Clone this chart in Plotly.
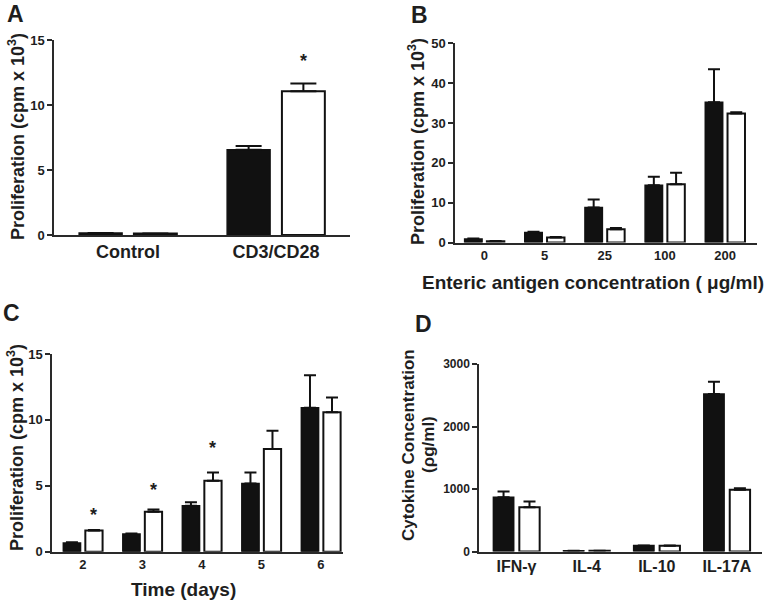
import plotly.graph_objects as go

# ---------- data ----------
a_cats = ["Control", "CD3/CD28"]
a_black = [0.15, 6.55]
a_black_err = [0.0, 0.3]
a_white = [0.12, 11.06]
a_white_err = [0.0, 0.6]
a_ticks = [0, 5, 10, 15]
a_stars = [("CD3/CD28", 13.4)]

b_cats = ["0", "5", "25", "100", "200"]
b_black = [0.9, 2.5, 8.8, 14.4, 35.2]
b_black_err = [0.1, 0.2, 2.0, 2.1, 8.3]
b_white = [0.3, 1.25, 3.35, 14.6, 32.4]
b_white_err = [0.05, 0.1, 0.3, 2.9, 0.3]
b_ticks = [0, 10, 20, 30, 40, 50]

c_cats = ["2", "3", "4", "5", "6"]
c_black = [0.66, 1.34, 3.48, 5.18, 10.93]
c_black_err = [0.05, 0.05, 0.28, 0.82, 2.45]
c_white = [1.6, 3.03, 5.38, 7.8, 10.58]
c_white_err = [0.05, 0.17, 0.62, 1.37, 1.12]
c_ticks = [0, 5, 10, 15]
c_stars = [("2", 2.8), ("3", 4.7), ("4", 7.85)]

d_cats = ["IFN-γ", "IL-4", "IL-10", "IL-17A"]
d_black = [868, 10, 96, 2520]
d_black_err = [91, 0, 0, 198]
d_white = [709, 10, 90, 986]
d_white_err = [90, 0, 5, 26]
d_ticks = [0, 1000, 2000, 3000]

W, H = 765, 601
FONT = "Liberation Sans"
TXT = "#1e1e1e"
LINE = "#2a2a2a"

def px(x):
    return x / W

def py(y):
    return 1 - y / H

fig = go.Figure()

BW = 0.29
OFF_B = -0.33
OFF_W = 0.04

panels = [
    ("1", a_cats, a_black, a_black_err, a_white, a_white_err, a_ticks, [0, 15], (54, 350), (40, 235), [-0.5, 1.5], 13, 18, 13),
    ("2", b_cats, b_black, b_black_err, b_white, b_white_err, b_ticks, [0, 50], (455, 757), (43.3, 242.5), [-0.49, 4.53], 6, 13, 13),
    ("3", c_cats, c_black, c_black_err, c_white, c_white_err, c_ticks, [0, 15], (52, 343), (354, 551.7), [-0.52, 4.37], 6, 13, 13),
    ("4", d_cats, d_black, d_black_err, d_white, d_white_err, d_ticks, [0, 3000], (479, 762), (364, 551.5), [-0.535, 3.5], 6, 16, 12),
]

layout_axes = {}
for name, cats, blk, berr, wht, werr, ticks, yr, xd, yd, xr, capw, xfs, yfs in panels:
    xa = "x" + ("" if name == "1" else name)
    ya = "y" + ("" if name == "1" else name)
    fig.add_trace(go.Bar(
        x=cats, y=blk, xaxis=xa, yaxis=ya, width=BW, offset=OFF_B,
        marker=dict(color="#111111", line=dict(color="#111111", width=1.5)),
        error_y=dict(type="data", array=berr, arrayminus=[0] * len(berr), symmetric=False,
                     color="#111111", thickness=2, width=capw),
        showlegend=False,
    ))
    fig.add_trace(go.Bar(
        x=cats, y=wht, xaxis=xa, yaxis=ya, width=BW, offset=OFF_W,
        marker=dict(color="#ffffff", line=dict(color="#111111", width=2)),
        error_y=dict(type="data", array=werr, arrayminus=[0] * len(werr), symmetric=False,
                     color="#111111", thickness=2, width=capw),
        showlegend=False,
    ))
    xkey = "xaxis" + ("" if name == "1" else name)
    ykey = "yaxis" + ("" if name == "1" else name)
    layout_axes[xkey] = dict(
        domain=[px(xd[0]), px(xd[1])], anchor=ya, type="category",
        categoryorder="array", categoryarray=cats, range=xr, automargin=False,
        showline=True, linecolor=LINE, linewidth=1.5, ticks="",
        showgrid=False, zeroline=False, fixedrange=True,
        tickfont=dict(family=FONT, size=xfs, color=TXT, weight="bold"),
    )
    layout_axes[ykey] = dict(
        domain=[py(yd[1]), py(yd[0])], anchor=xa, range=yr, automargin=False,
        tickvals=ticks, showline=True, linecolor=LINE, linewidth=1.5,
        ticks="outside", ticklen=5, tickwidth=1.5, tickcolor=LINE,
        showgrid=False, zeroline=False, fixedrange=True,
        tickfont=dict(family=FONT, size=yfs, color=TXT, weight="bold"),
    )

fig.update_layout(
    width=W, height=H, barmode="overlay",
    margin=dict(l=0, r=0, t=0, b=0, autoexpand=False),
    paper_bgcolor="white", plot_bgcolor="white",
    **layout_axes,
)

anns = []
def txt(x, y, s, size, angle=0, xanchor="center", yanchor="middle"):
    anns.append(dict(xref="paper", yref="paper", x=px(x), y=py(y), text=s,
                     showarrow=False, textangle=angle, xanchor=xanchor, yanchor=yanchor,
                     font=dict(family=FONT, size=size, color=TXT, weight="bold")))

# panel letters
txt(16, 14, "A", 23)
txt(419, 15, "B", 23)
txt(11, 313, "C", 23)
txt(423, 324, "D", 23)

# axis titles
ytitle = "Proliferation (cpm x 10<sup>3</sup>)"
txt(16, 137, ytitle, 18, angle=-90)
txt(416, 141, ytitle, 18, angle=-90)
txt(15, 448, ytitle, 18, angle=-90)
txt(408, 445, "Cytokine Concentration", 17, angle=-90)
txt(428, 445, "(ρg/ml)", 17, angle=-90)
txt(593, 282, "Enteric antigen concentration ( μg/ml)", 19)
txt(183, 589, "Time (days)", 19)

# significance stars
for cat, yv in a_stars:
    anns.append(dict(xref="x", yref="y", x=a_cats.index(cat) + OFF_W + BW / 2, y=yv,
                     text="*", showarrow=False, yanchor="middle",
                     font=dict(family=FONT, size=18, color=TXT, weight="bold")))
for cat, yv in c_stars:
    anns.append(dict(xref="x3", yref="y3", x=c_cats.index(cat) + OFF_W + BW / 2, y=yv,
                     text="*", showarrow=False, yanchor="middle",
                     font=dict(family=FONT, size=18, color=TXT, weight="bold")))

fig.update_layout(annotations=anns)
fig.write_html(
    "out.html",
    config={"displayModeBar": False},
    post_script="document.body.style.margin='0px';document.body.style.overflow='hidden';",
)
